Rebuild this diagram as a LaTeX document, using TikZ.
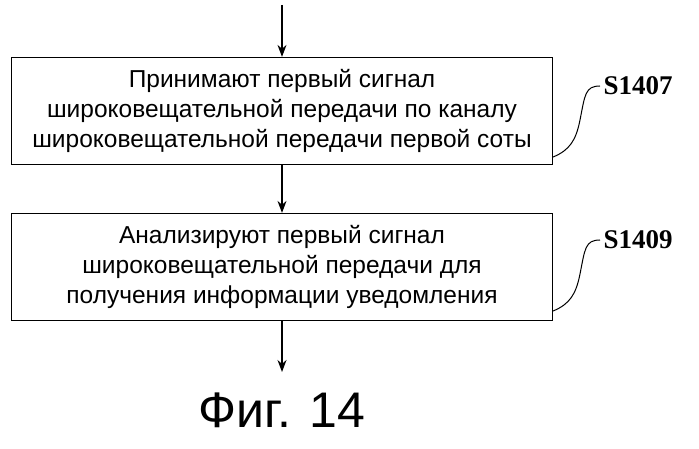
\documentclass[tikz,border=0pt]{standalone}
\usepackage{fontspec}
\setmainfont{Liberation Sans}
\newfontfamily\labelfont{Liberation Serif}
\usetikzlibrary{positioning,arrows.meta}
\begin{document}
\begin{tikzpicture}[x=1pt,y=-1pt,
    stepbox/.style={draw, line width=1.2pt, minimum width=541pt, minimum height=107pt,
      align=center, font=\fontsize{24.5}{30}\selectfont},
    steplabel/.style={font=\labelfont\bfseries\fontsize{27}{30}\selectfont, anchor=west},
    flow/.style={-{Stealth[length=12pt,width=9pt]}, line width=1.4pt}]
    \useasboundingbox (0,0) rectangle (699,449);

    \coordinate (top) at (282,5);
    \node[stepbox] (s1407) at (282,111) {Принимают первый сигнал\\широковещательной передачи по каналу\\широковещательной передачи первой соты};
    \node[stepbox] (s1409) at (282,267) {Анализируют первый сигнал\\широковещательной передачи для\\получения информации уведомления};
    \coordinate (bottom) at (282,372);
    \node[font=\fontsize{50}{56}\selectfont] (fig) at (282,410) {Фиг. 14};

    \node[steplabel] (l1407) at (600,86) {S1407};
    \node[steplabel] (l1409) at (600,240) {S1409};

    \draw[flow] (top) -- (s1407.north);
    \draw[flow] (s1407.south) -- (s1409.north);
    \draw[flow] (s1409.south) -- (bottom);

    % leaders
    \draw[line width=1pt] (l1407.west) .. controls (585,86) and (585,95) .. (580,120)
        .. controls (576,140) and (570,150) .. (s1407.east |- 0,157);
    \draw[line width=1pt] (l1409.west) .. controls (585,240) and (585,249) .. (580,274)
        .. controls (576,294) and (570,304) .. (s1409.east |- 0,311);
\end{tikzpicture}
\end{document}
